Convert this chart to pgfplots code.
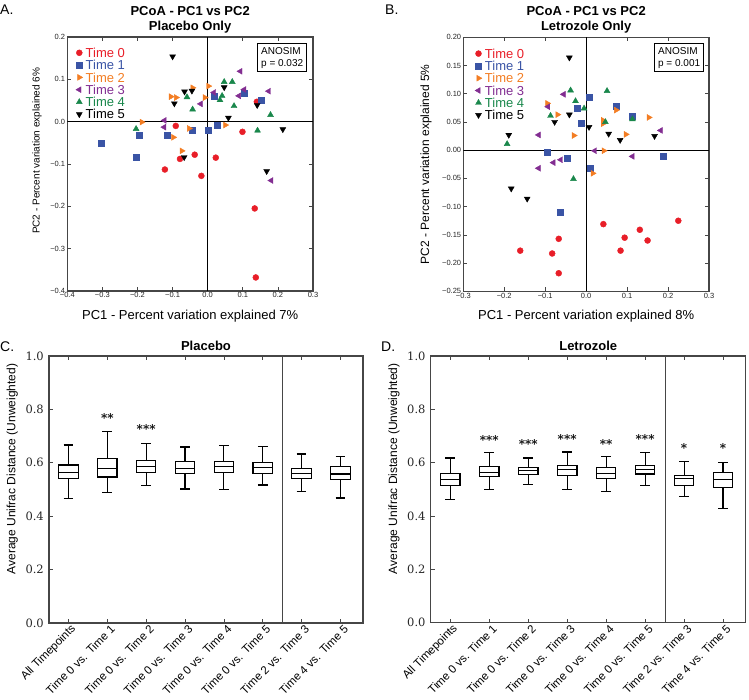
\documentclass[border=0pt]{standalone}
\usepackage{fontspec}
\setmainfont{Liberation Sans}
\newfontfamily\dserif{DejaVu Serif}
\usepackage{pgfplots}
\pgfplotsset{compat=1.18}
\usepgfplotslibrary{statistics}
\definecolor{cred}{RGB}{232,30,40}
\definecolor{cblue}{RGB}{58,84,165}
\definecolor{corange}{RGB}{243,125,35}
\definecolor{cpurple}{RGB}{130,45,145}
\definecolor{cgreen}{RGB}{25,135,75}
\definecolor{axgray}{RGB}{70,70,70}
\pgfplotsset{
  pt/.style={only marks, legend image code/.code={\draw[##1] plot coordinates {(0pt,0pt)};}},
  s0/.style={pt, mark=*, color=cred, mark size=3pt},
  s1/.style={pt, mark=square*, color=cblue, mark size=3pt},
  s2/.style={pt, mark=triangle*, color=corange, mark size=3.4pt, mark options={rotate=-90}},
  s3/.style={pt, mark=triangle*, color=cpurple, mark size=3.4pt, mark options={rotate=90}},
  s4/.style={pt, mark=triangle*, color=cgreen, mark size=3.4pt},
  s5/.style={pt, mark=triangle*, color=black, mark size=3.4pt, mark options={rotate=180}},
  scat/.style={
    scale only axis, width=245.7pt, height=254pt,
    axis line style={line width=1.1pt, axgray},
    tick align=inside, major tick length=4pt,
    tick style={axgray, line width=0.7pt},
    xtick pos=both, ytick pos=both,
    ticklabel style={font=\fontsize{7.5}{8}\selectfont, text=black!85},
    xticklabel style={inner sep=1.5pt},
    yticklabel style={inner sep=2pt},
    xlabel style={font=\fontsize{13}{15}\selectfont, yshift=-7pt},
    title style={font=\fontsize{13}{15}\bfseries\selectfont, align=center, inner sep=0pt, yshift=-2.3pt},
    legend style={draw=none, fill=none, anchor=north west, font=\fontsize{13}{13}\selectfont,
      row sep=2.9pt, nodes={inner sep=0pt, text height=9.4pt, text depth=0pt}, column sep=3pt},
    legend cell align=left,
  },
  boxax/.style={
    scale only axis, width=314pt, height=267pt,
    xmin=-0.5, xmax=7.58, ymin=0, ymax=1,
    axis line style={line width=1.2pt, axgray},
    tick align=inside, major tick length=4pt,
    tick style={axgray, line width=0.7pt},
    xtick pos=both, ytick pos=left,
    xtick={0,...,7},
    xticklabels={All Timepoints, Time 0 vs. Time 1, Time 0 vs. Time 2, Time 0 vs. Time 3, Time 0 vs. Time 4, Time 0 vs. Time 5, Time 2 vs. Time 3, Time 4 vs. Time 5},
    xticklabel style={rotate=45, anchor=east, font=\fontsize{11.5}{12}\selectfont, inner sep=1pt, yshift=-7pt, xshift=2pt},
    ytick={0,0.2,...,1.0},
    yticklabels={0.0,0.2,0.4,0.6,0.8,1.0},
    yticklabel style={font=\dserif\fontsize{11.5}{12}\selectfont, text=black!85, inner sep=1pt, xshift=-4pt},
    ylabel style={font=\fontsize{12}{13}\selectfont, at={(ticklabel cs:0.577,3pt)}},
    title style={font=\fontsize{13}{15}\bfseries\selectfont, inner sep=0pt, yshift=-1pt},
  },
  bx/.style={black, line width=1.2pt, solid, boxplot/draw direction=y},
}
\newcommand{\bp}[6]{\addplot[bx, boxplot prepared={draw position=#1, lower whisker=#2, lower quartile=#3, median=#4, upper quartile=#5, upper whisker=#6, box extend=0.5, whisker extend=0.25}] coordinates {};}
\newcommand{\stars}[3]{\node[font=\dserif\bfseries\fontsize{12}{12}\selectfont, inner sep=0pt] at (axis cs:#1,#2) {#3};}
\begin{document}
\begin{tikzpicture}
\useasboundingbox (0pt,0pt) rectangle (749pt,-700pt);
% ---------------- Panel A ----------------
\begin{axis}[scat, at={(67.3pt,-291pt)}, anchor=south west,
  xmin=-0.4, xmax=0.3, ymin=-0.4, ymax=0.2,
  xtick={-0.4,-0.3,...,0.31}, xticklabels={−0.4,−0.3,−0.2,−0.1,0.0,0.1,0.2,0.3},
  ytick={-0.4,-0.3,...,0.21}, yticklabels={−0.4,−0.3,−0.2,−0.1,0.0,0.1,0.2},
  title={PCoA - PC1 vs PC2\\Placebo Only},
  xlabel={PC1 - Percent variation explained 7\%},
  ylabel={PC2 - Percent variation explained 6\%},
  ylabel style={font=\fontsize{10}{12}\selectfont, at={(ticklabel cs:0.552,3pt)}},
  legend style={at={(0.022,0.965)}},
]
\draw[black, line width=0.8pt] (axis cs:0,-0.4) -- (axis cs:0,0.2);
\draw[black, line width=0.8pt] (axis cs:-0.4,0) -- (axis cs:0.3,0);
\addplot[s0] table {
x y
-0.091 -0.010
-0.122 -0.113
-0.079 -0.088
-0.037 -0.078
-0.018 -0.128
0.023 -0.085
0.099 -0.024
0.140 0.047
0.134 -0.205
0.137 -0.368
};
\addlegendentry{\textcolor{cred}{Time 0}}
\addplot[s1] table {
x y
-0.304 -0.050
-0.204 -0.083
-0.195 -0.032
-0.116 -0.031
-0.044 -0.020
0.000 -0.020
0.028 -0.009
0.019 0.059
0.104 0.067
0.152 0.051
};
\addlegendentry{\textcolor{cblue}{Time 1}}
\addplot[s2] table {
x y
-0.188 -0.001
-0.105 0.059
-0.090 0.057
-0.043 0.080
0.002 0.084
-0.008 0.057
-0.053 -0.016
-0.098 -0.037
-0.074 -0.069
0.050 -0.008
};
\addlegendentry{\textcolor{corange}{Time 2}}
\addplot[s3] table {
x y
-0.123 0.003
-0.124 -0.013
-0.020 0.042
0.018 0.069
0.093 0.119
0.089 0.061
0.104 0.076
0.174 0.072
0.181 -0.139
};
\addlegendentry{\textcolor{cpurple}{Time 3}}
\addplot[s4] table {
x y
-0.204 -0.017
-0.059 0.058
-0.043 0.029
0.047 0.094
0.070 0.094
0.041 0.061
0.035 0.051
0.075 0.037
0.142 -0.021
0.179 0.016
};
\addlegendentry{\textcolor{cgreen}{Time 4}}
\addplot[s5] table {
x y
-0.100 0.154
-0.066 0.071
-0.045 0.073
-0.095 0.043
-0.067 -0.084
0.047 0.081
0.059 0.009
0.141 0.039
0.214 -0.018
0.168 -0.117
};
\addlegendentry{Time 5}
\node[draw=black, line width=0.9pt, align=left, anchor=north east, font=\fontsize{10}{12}\selectfont, inner sep=3.5pt] at (rel axis cs:0.976,0.976) {ANOSIM\\p = 0.032};
\end{axis}
% ---------------- Panel B ----------------
\begin{axis}[scat, at={(463.3pt,-291.3pt)}, anchor=south west,
  xmin=-0.3, xmax=0.3, ymin=-0.25, ymax=0.2,
  xtick={-0.3,-0.2,...,0.31}, xticklabels={−0.3,−0.2,−0.1,0.0,0.1,0.2,0.3},
  ytick={-0.25,-0.2,...,0.21}, yticklabels={−0.25,−0.20,−0.15,−0.10,−0.05,0.00,0.05,0.10,0.15,0.20},
  title={PCoA - PC1 vs PC2\\Letrozole Only},
  xlabel={PC1 - Percent variation explained 8\%},
  ylabel={PC2 - Percent variation explained 5\%},
  ylabel style={font=\fontsize{12}{13}\selectfont, at={(ticklabel cs:0.5,5pt)}},
  legend style={at={(0.035,0.963)}},
]
\draw[black, line width=0.8pt] (axis cs:0,-0.25) -- (axis cs:0,0.2);
\draw[black, line width=0.8pt] (axis cs:-0.3,0) -- (axis cs:0.3,0);
\addplot[s0] table {
x y
0.042 -0.131
-0.067 -0.157
-0.161 -0.178
-0.083 -0.183
-0.067 -0.218
0.094 -0.155
0.131 -0.141
0.150 -0.160
0.084 -0.178
0.225 -0.125
};
\addlegendentry{\textcolor{cred}{Time 0}}
\addplot[s1] table {
x y
-0.096 -0.004
-0.047 -0.015
-0.022 0.074
-0.011 0.048
0.008 0.093
0.074 0.078
0.113 0.060
0.187 -0.010
0.011 -0.032
-0.064 -0.110
};
\addlegendentry{\textcolor{cblue}{Time 1}}
\addplot[s2] table {
x y
-0.095 0.083
-0.070 0.063
-0.030 0.026
0.041 0.053
0.041 0.047
0.073 0.071
0.097 0.028
0.153 0.058
0.043 -0.001
0.016 -0.041
};
\addlegendentry{\textcolor{corange}{Time 2}}
\addplot[s3] table {
x y
-0.116 0.027
-0.093 0.077
-0.055 0.099
-0.080 -0.022
-0.062 -0.017
0.021 -0.001
0.113 -0.011
0.182 0.035
-0.116 -0.032
};
\addlegendentry{\textcolor{cpurple}{Time 3}}
\addplot[s4] table {
x y
-0.193 0.011
-0.087 0.061
-0.038 0.106
-0.026 0.087
-0.005 0.074
0.051 0.105
0.047 0.050
0.113 0.055
-0.031 -0.051
};
\addlegendentry{\textcolor{cgreen}{Time 4}}
\addplot[s5] table {
x y
-0.041 0.164
-0.189 0.027
-0.077 0.050
-0.041 0.063
0.007 0.041
0.055 0.029
0.083 0.018
0.167 0.025
-0.183 -0.068
-0.144 -0.086
};
\addlegendentry{Time 5}
\node[draw=black, line width=0.9pt, align=left, anchor=north east, font=\fontsize{10}{12}\selectfont, inner sep=3.5pt] at (rel axis cs:0.98,0.976) {ANOSIM\\p = 0.001};
\end{axis}
% ---------------- Panel C ----------------
\begin{axis}[boxax, at={(49pt,-623pt)}, anchor=south west,
  title={Placebo},
  ylabel={Average Unifrac Distance (Unweighted)},
]
\bp{0}{0.466}{0.540}{0.564}{0.592}{0.667}
\bp{1}{0.489}{0.547}{0.579}{0.617}{0.718}
\bp{2}{0.514}{0.564}{0.587}{0.608}{0.672}
\bp{3}{0.502}{0.559}{0.580}{0.605}{0.659}
\bp{4}{0.499}{0.563}{0.587}{0.605}{0.664}
\bp{5}{0.517}{0.559}{0.583}{0.601}{0.661}
\bp{6}{0.492}{0.542}{0.560}{0.579}{0.633}
\bp{7}{0.468}{0.537}{0.558}{0.587}{0.625}
\draw[axgray, line width=1.2pt] (axis cs:5.5,0) -- (axis cs:5.5,1);
\stars{1}{0.768}{**}
\stars{2}{0.725}{***}
\end{axis}
% ---------------- Panel D ----------------
\begin{axis}[boxax, at={(430.7pt,-622.5pt)}, anchor=south west, width=315pt, height=266.5pt,
  title={Letrozole},
  ylabel={Average Unifrac Distance (Unweighted)},
]
\bp{0}{0.461}{0.513}{0.537}{0.559}{0.617}
\bp{1}{0.499}{0.547}{0.563}{0.585}{0.638}
\bp{2}{0.518}{0.555}{0.569}{0.582}{0.617}
\bp{3}{0.499}{0.551}{0.573}{0.589}{0.640}
\bp{4}{0.491}{0.540}{0.559}{0.582}{0.624}
\bp{5}{0.515}{0.557}{0.573}{0.590}{0.638}
\bp{6}{0.473}{0.514}{0.539}{0.552}{0.605}
\bp{7}{0.427}{0.508}{0.536}{0.563}{0.601}
\draw[axgray, line width=1.2pt] (axis cs:5.53,0) -- (axis cs:5.53,1);
\stars{1}{0.685}{***}
\stars{2}{0.668}{***}
\stars{3}{0.688}{***}
\stars{4}{0.668}{**}
\stars{5}{0.687}{***}
\stars{6}{0.653}{*}
\stars{7}{0.653}{*}
\end{axis}
% panel letters
\node[anchor=base west, font=\fontsize{14}{14}\selectfont, inner sep=0pt] at (0pt,-15pt) {A.};
\node[anchor=base west, font=\fontsize{14}{14}\selectfont, inner sep=0pt] at (385pt,-15pt) {B.};
\node[anchor=base west, font=\fontsize{14}{14}\selectfont, inner sep=0pt] at (0pt,-352pt) {C.};
\node[anchor=base west, font=\fontsize{14}{14}\selectfont, inner sep=0pt] at (381pt,-352pt) {D.};
\end{tikzpicture}
\end{document}
